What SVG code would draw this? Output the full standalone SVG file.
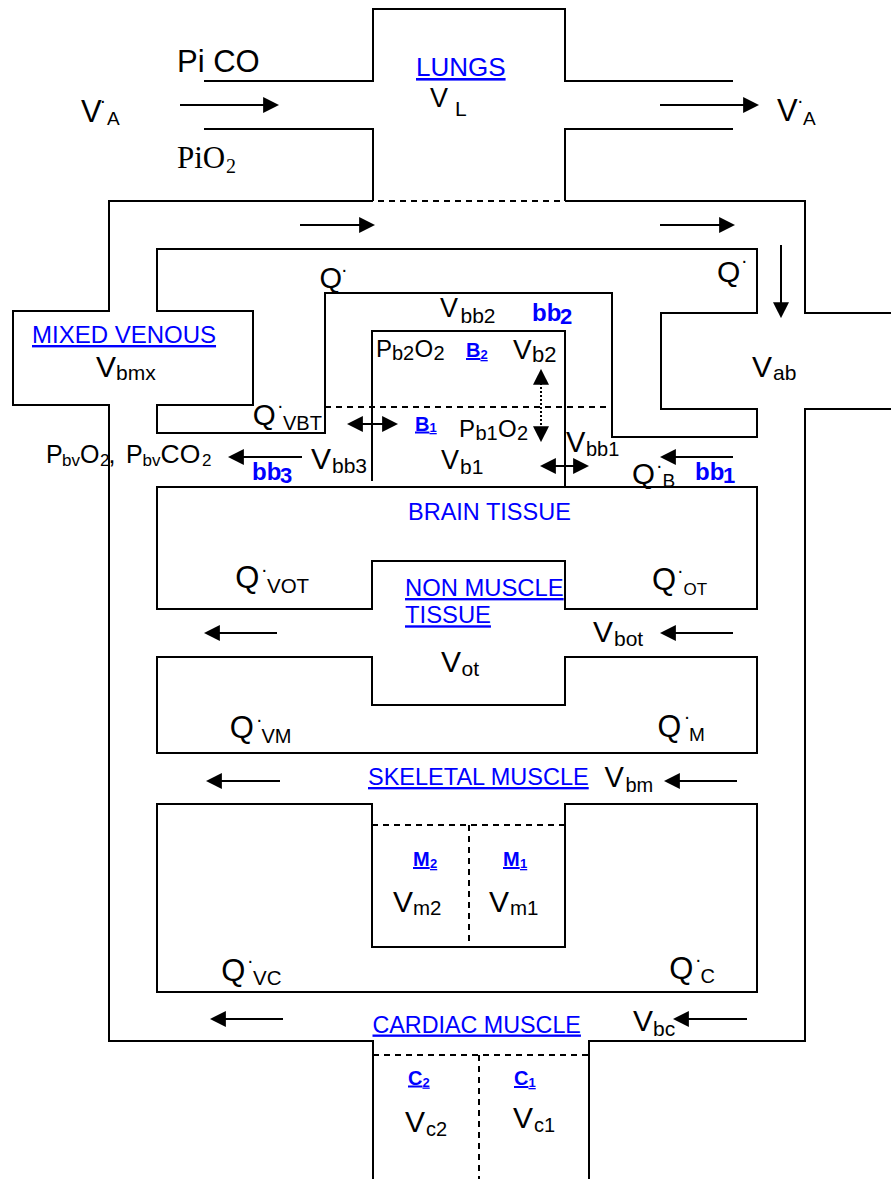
<svg xmlns="http://www.w3.org/2000/svg" width="891" height="1179" viewBox="0 0 891 1179">
<style>
.ln{fill:none;stroke:#000;stroke-width:2}
.ds{fill:none;stroke:#000;stroke-width:2;stroke-dasharray:6 5}
.ar{fill:none;stroke:#000;stroke-width:2;marker-end:url(#ah)}
.da{fill:none;stroke:#000;stroke-width:2;marker-end:url(#ah);marker-start:url(#ah)}
.dt{fill:none;stroke:#000;stroke-width:2;stroke-dasharray:2 2;marker-end:url(#ah);marker-start:url(#ah)}
text{font-family:"Liberation Sans",Arial,sans-serif;fill:#000}
.bl{fill:#0000FF}
.u{text-decoration:underline}
.bd{font-weight:bold}
.sr{font-family:"Liberation Serif","Times New Roman",serif}
</style>
<defs>
<marker id="ah" markerUnits="userSpaceOnUse" markerWidth="16" markerHeight="16" viewBox="0 0 15 15" refX="13" refY="7.5" orient="auto-start-reverse">
<path d="M0,0 L15,7.5 L0,15 Z" fill="#000"/>
</marker>
</defs>
<rect width="891" height="1179" fill="#fff"/>

<g id="lungs">
<path class="ln" d="M204,81 H373 V9 H565 V81 H733"/>
<path class="ln" d="M204,129 H373 V201"/>
<path class="ln" d="M733,129 H565 V201"/>
<path class="ds" d="M378,201 H565"/>
<text x="416" y="76" font-size="26" class="bl u">LUNGS</text>
<text x="430" y="107" font-size="27">V<tspan x="455" y="116" font-size="21">L</tspan></text>
<text x="177" y="72" font-size="31">Pi CO</text>
<text x="177" y="168" font-size="31" class="sr">PiO<tspan x="226" y="173" font-size="20">2</tspan></text>
<text x="81" y="122" font-size="31">V<tspan x="100" y="102.5" font-size="20">.</tspan><tspan x="107" y="125" font-size="19">A</tspan></text>
<text x="777" y="121" font-size="31">V<tspan x="797.5" y="103" font-size="20">.</tspan><tspan x="803" y="124.5" font-size="19">A</tspan></text>
</g>

<g id="vessels">
<path class="ln" d="M373,201 H109 V311 H13 V405 H109 V1041 H373 V1179"/>
<path class="ln" d="M565,201 H805 V313 H891"/>
<path class="ln" d="M891,409 H805 V1041 H589 V1179"/>
<path class="ln" d="M157,311 V249 H757 V313 H661 V409 H757 V437 H612 V293 H325 V433 H157 V405 H253 V311 Z"/>
</g>

<g id="mixed-venous">
<text x="32" y="343" font-size="24" class="bl u">MIXED VENOUS</text>
<text x="96" y="377" font-size="30">V<tspan x="116" y="380" font-size="21">bmx</tspan></text>
<text x="46" y="463" font-size="25">P<tspan x="62" y="466" font-size="17">bv</tspan><tspan x="80" y="463">O</tspan><tspan x="100" y="466" font-size="17">2</tspan><tspan x="108.5" y="463">,</tspan><tspan x="126" y="463">P</tspan><tspan x="142.5" y="466" font-size="17">bv</tspan><tspan x="160.5" y="463" font-size="26.5">CO</tspan><tspan x="202" y="466" font-size="17">2</tspan></text>
</g>

<g id="brain">
<path class="ln" d="M372,481 V331 H565 V487"/>
<path class="ds" d="M325,407 H612"/>
<text x="319.5" y="288" font-size="29">Q<tspan x="341.5" y="272" font-size="20">.</tspan></text>
<text x="717" y="281.5" font-size="30">Q<tspan x="741.5" y="263" font-size="20">.</tspan></text>
<text x="440" y="317" font-size="27">V<tspan x="460.5" y="323" font-size="21">bb2</tspan></text>
<text x="532" y="321" font-size="24" class="bl bd">bb<tspan x="560" y="324" font-size="22">2</tspan></text>
<text x="376" y="357" font-size="24">P<tspan x="392" y="360" font-size="20">b2</tspan><tspan x="414.5" y="357">O</tspan><tspan x="433.5" y="360" font-size="20">2</tspan></text>
<text x="466" y="357" font-size="20" class="bl bd u">B<tspan x="480.5" y="359" font-size="13">2</tspan></text>
<text x="513" y="359" font-size="28">V<tspan x="532" y="362" font-size="22">b2</tspan></text>
<text x="252.7" y="424.5" font-size="29.5">Q<tspan x="277.5" y="408" font-size="20">.</tspan><tspan x="283" y="430" font-size="20">VBT</tspan></text>
<text x="415" y="430.5" font-size="20" class="bl bd u">B<tspan x="429.5" y="432" font-size="13">1</tspan></text>
<text x="459" y="437" font-size="24">P<tspan x="475.5" y="440" font-size="20">b1</tspan><tspan x="498" y="437">O</tspan><tspan x="517" y="440" font-size="20">2</tspan></text>
<text x="566" y="452" font-size="29">V<tspan x="586" y="456" font-size="20">bb1</tspan></text>
<text x="441" y="468.5" font-size="27">V<tspan x="460" y="473.5" font-size="21">b1</tspan></text>
<text x="311" y="469" font-size="30">V<tspan x="332" y="473" font-size="21">bb3</tspan></text>
<text x="252" y="480" font-size="24" class="bl bd">bb<tspan x="280" y="483" font-size="22">3</tspan></text>
<text x="632" y="483.5" font-size="29.5">Q<tspan x="656.5" y="468" font-size="20">.</tspan><tspan x="662.5" y="487" font-size="19">B</tspan></text>
<text x="695" y="480" font-size="24" class="bl bd">bb<tspan x="723" y="483" font-size="22">1</tspan></text>
</g>

<g id="arterial">
<text x="752" y="377" font-size="30">V<tspan x="773" y="379.5" font-size="21">ab</tspan></text>
</g>

<g id="brain-tissue">
<path class="ln" d="M157,487 H757 V609 H565 V561 H372 V609 H157 Z"/>
<text x="408" y="520" font-size="23.5" class="bl">BRAIN TISSUE</text>
<text x="235.3" y="588" font-size="31">Q<tspan x="261.5" y="571.5" font-size="20">.</tspan><tspan x="267" y="593" font-size="20.5">VOT</tspan></text>
<text x="652" y="590" font-size="31">Q<tspan x="677.5" y="572.5" font-size="20">.</tspan><tspan x="683.5" y="595" font-size="17">OT</tspan></text>
</g>

<g id="non-muscle-tissue">
<path class="ln" d="M157,657 H372 V705 H565 V657 H757 V753 H157 Z"/>
<text x="405" y="596" font-size="23.8" class="bl u">NON MUSCLE</text>
<text x="405" y="623.3" font-size="23.8" class="bl u">TISSUE</text>
<text x="593" y="642" font-size="30">V<tspan x="614" y="645.5" font-size="21">bot</tspan></text>
<text x="441" y="672" font-size="30">V<tspan x="461.5" y="676" font-size="21">ot</tspan></text>
<text x="229.7" y="738" font-size="31">Q<tspan x="256.5" y="721.5" font-size="20">.</tspan><tspan x="261.5" y="742.5" font-size="20">VM</tspan></text>
<text x="657.6" y="736.5" font-size="30.5">Q<tspan x="684.2" y="719" font-size="20">.</tspan><tspan x="689" y="740.5" font-size="19">M</tspan></text>
</g>

<g id="skeletal-muscle">
<path class="ln" d="M157,804 H372 V947 H565 V804 H757 V992 H157 Z"/>
<path class="ds" d="M372,825 H565 M469,825 V947"/>
<text x="368" y="785" font-size="23.5" class="bl u">SKELETAL MUSCLE</text>
<text x="604.5" y="786.5" font-size="29">V<tspan x="625.5" y="791.5" font-size="20">bm</tspan></text>
<text x="413" y="866" font-size="20" class="bl bd u">M<tspan x="430" y="868" font-size="13">2</tspan></text>
<text x="503" y="866" font-size="20" class="bl bd u">M<tspan x="520" y="868" font-size="13">1</tspan></text>
<text x="393" y="911.5" font-size="30">V<tspan x="413" y="915" font-size="20.5">m2</tspan></text>
<text x="489" y="911.5" font-size="30">V<tspan x="510" y="915" font-size="20.5">m1</tspan></text>
<text x="221.3" y="980.5" font-size="31">Q<tspan x="247.5" y="962.5" font-size="20">.</tspan><tspan x="253" y="985" font-size="20.5">VC</tspan></text>
<text x="669.3" y="979" font-size="31">Q<tspan x="695.5" y="961.5" font-size="20">.</tspan><tspan x="700.5" y="982.5" font-size="20">C</tspan></text>
</g>

<g id="cardiac-muscle">
<path class="ds" d="M373,1055 H589 M479,1055 V1179"/>
<text x="372.5" y="1032.5" font-size="23.3" class="bl u">CARDIAC MUSCLE</text>
<text x="633" y="1030.5" font-size="30">V<tspan x="653" y="1036" font-size="21">bc</tspan></text>
<text x="408" y="1084.5" font-size="20" class="bl bd u">C<tspan x="422.5" y="1086.5" font-size="13">2</tspan></text>
<text x="514" y="1085" font-size="20" class="bl bd u">C<tspan x="528.5" y="1087" font-size="13">1</tspan></text>
<text x="405" y="1131.5" font-size="30">V<tspan x="426" y="1136" font-size="20">c2</tspan></text>
<text x="513" y="1128" font-size="30">V<tspan x="534" y="1131.5" font-size="20">c1</tspan></text>
</g>

<g id="connectors">
<line class="ar" x1="180" y1="105" x2="277" y2="105"/>
<line class="ar" x1="660" y1="105" x2="757" y2="105"/>
<line class="ar" x1="300" y1="225" x2="373" y2="225"/>
<line class="ar" x1="660" y1="225" x2="733" y2="225"/>
<line class="ar" x1="781" y1="245" x2="781" y2="316"/>
<line class="ar" x1="733" y1="457" x2="662" y2="457"/>
<line class="ar" x1="302" y1="457" x2="230" y2="457"/>
<line class="da" x1="349" y1="424" x2="396" y2="424"/>
<line class="da" x1="542" y1="466" x2="587" y2="466"/>
<line class="dt" x1="541" y1="371" x2="541" y2="440"/>
<line class="ar" x1="277" y1="633" x2="206" y2="633"/>
<line class="ar" x1="733" y1="633" x2="662" y2="633"/>
<line class="ar" x1="280" y1="781" x2="208" y2="781"/>
<line class="ar" x1="737" y1="781" x2="666" y2="781"/>
<line class="ar" x1="283" y1="1019" x2="212" y2="1019"/>
<line class="ar" x1="747" y1="1019" x2="675" y2="1019"/>
</g>
</svg>
